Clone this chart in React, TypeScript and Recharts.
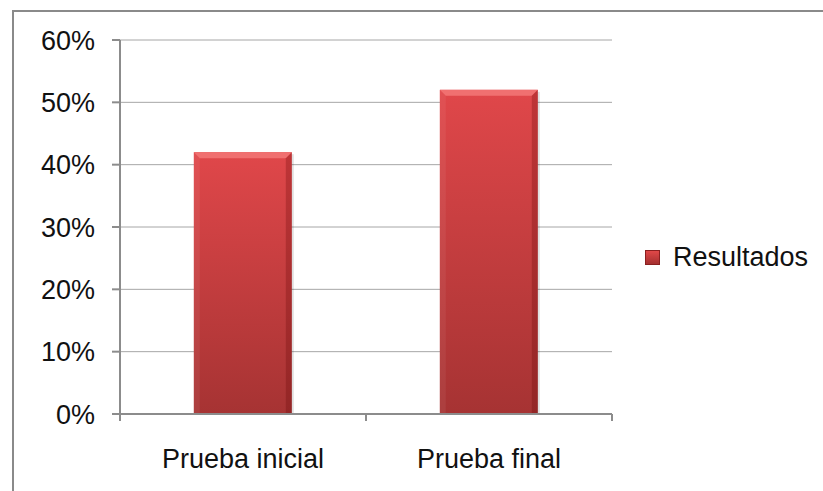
import { BarChart, Bar, XAxis, YAxis, CartesianGrid } from 'recharts'

// ─── Data ─────────────────────────────────────────────────────────────────────

const CATEGORIES = ['Prueba inicial', 'Prueba final']
const RESULTADOS = [0.42, 0.52]
const Y_TICKS = [0, 0.1, 0.2, 0.3, 0.4, 0.5, 0.6]

const data = CATEGORIES.map((name, i) => ({ name, resultados: RESULTADOS[i] }))

// ─── Constants ────────────────────────────────────────────────────────────────

const FONT = "'Liberation Sans', Arial, sans-serif"
const AXIS = '#8c8c8c'
const GRID = '#a6a6a6'
const FS = 27

function pct(v: number) {
  return `${Math.round(v * 100)}%`
}

// ─── Category tick: label + marks at the category boundaries ─────────────────

function CategoryTick(props: any) {
  const { x, y, payload, index } = props
  const half = payload?.offset ?? 0
  const top = y - 8
  const mark = (mx: number) => (
    <line x1={mx} x2={mx} y1={top} y2={top + 7} stroke={AXIS} strokeWidth={2} />
  )
  return (
    <g>
      {mark(x - half)}
      {index === CATEGORIES.length - 1 && mark(x + half)}
      <text x={x} y={y + 27} dy="0.71em" textAnchor="middle" fontFamily={FONT} fontSize={FS} fill="#111">
        {payload.value}
      </text>
    </g>
  )
}

// ─── Bevelled bar shape ───────────────────────────────────────────────────────

function BevelBar(props: any) {
  const { x, y, width, height } = props
  if (!height || height <= 0) return null
  const b = 6
  return (
    <g>
      <rect x={x + 2} y={y + 2} width={width} height={height - 2} fill="rgba(0,0,0,0.12)" />
      <rect x={x} y={y} width={width} height={height} fill="url(#barGrad)" />
      {/* top bevel */}
      <polygon points={`${x},${y} ${x + width},${y} ${x + width - b},${y + b} ${x + b},${y + b}`} fill="#f07070" />
      {/* left bevel */}
      <polygon points={`${x},${y} ${x + b},${y + b} ${x + b},${y + height} ${x},${y + height}`} fill="rgba(255,255,255,0.06)" />
      {/* right bevel */}
      <polygon points={`${x + width},${y} ${x + width - b},${y + b} ${x + width - b},${y + height} ${x + width},${y + height}`} fill="rgba(90,0,0,0.25)" />
    </g>
  )
}

// ─── Component ────────────────────────────────────────────────────────────────

export default function App() {
  return (
    <div style={{ position: 'absolute', left: 0, top: 0, width: 823, height: 491, background: '#fff', overflow: 'hidden' }}>
      <div style={{ position: 'absolute', left: 12, top: 10, width: 830, height: 500, borderTop: '2px solid #8a8a8a', borderLeft: '2px solid #8a8a8a' }} />
      <BarChart
        width={823}
        height={491}
        data={data}
        margin={{ top: 40, right: 211, bottom: 30, left: 0 }}
        barCategoryGap="30%"
      >
        <defs>
          <linearGradient id="barGrad" x1="0" y1="0" x2="0" y2="1">
            <stop offset="0%" stopColor="#e0474a" />
            <stop offset="100%" stopColor="#a63333" />
          </linearGradient>
        </defs>
        <CartesianGrid vertical={false} stroke={GRID} strokeWidth={1} />
        <YAxis
          width={120}
          domain={[0, 0.6]}
          ticks={Y_TICKS}
          tickFormatter={pct}
          interval={0}
          axisLine={{ stroke: AXIS, strokeWidth: 2 }}
          tickLine={{ stroke: AXIS, strokeWidth: 2 }}
          tickSize={8}
          tickMargin={17}
          tick={{ fontFamily: FONT, fontSize: FS, fill: '#111' }}
        />
        <XAxis
          dataKey="name"
          height={47}
          interval={0}
          axisLine={{ stroke: AXIS, strokeWidth: 2 }}
          tickLine={false}
          tick={<CategoryTick />}
        />
        <Bar dataKey="resultados" name="Resultados" shape={<BevelBar />} isAnimationActive={false} />
      </BarChart>
      <div style={{ position: 'absolute', left: 645, top: 241, display: 'flex', alignItems: 'center', gap: 13, fontFamily: FONT, fontSize: FS, color: '#111', lineHeight: '32px' }}>
        <div style={{ width: 13, height: 13, background: 'linear-gradient(#e04848, #a53030)', border: '1px solid #8a2020' }} />
        <span>Resultados</span>
      </div>
    </div>
  )
}
